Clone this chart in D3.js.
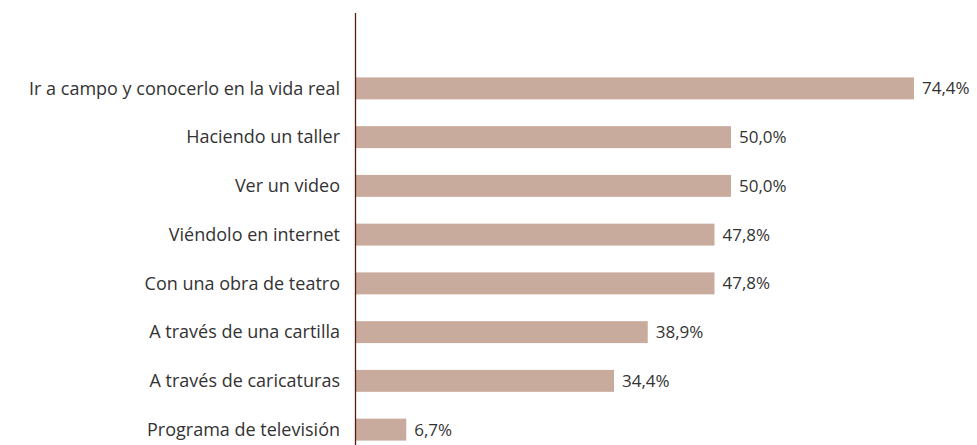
<!DOCTYPE html>
<html>
<head>
<meta charset="utf-8">
<script src="https://cdn.jsdelivr.net/npm/d3@7"></script>
<style>
  body { margin: 0; background: #fff; }
  svg text { font-family: "Open Sans", sans-serif; fill: #333; }
</style>
</head>
<body>
<div id="chart"></div>
<script>
var categories = [
  "Ir a campo y conocerlo en la vida real",
  "Haciendo un taller",
  "Ver un video",
  "Viéndolo en internet",
  "Con una obra de teatro",
  "A través de una cartilla",
  "A través de caricaturas",
  "Programa de televisión"
];
var values = [74.4, 50.0, 50.0, 47.8, 47.8, 38.9, 34.4, 6.7];

var width = 977, height = 445;

var svg = d3.select("#chart")
            .append("svg")
            .attr("width", width)
            .attr("height", height);

var x = d3.scaleLinear()
          .domain([0, 74.4])
          .range([356, 914]);

var y = d3.scaleBand()
          .domain(categories)
          .range([64, 454])
          .paddingInner(0.55)
          .paddingOuter(0.275);

svg.selectAll("rect.bar")
   .data(values)
   .enter()
   .append("rect")
   .attr("class", "bar")
   .attr("x", x(0))
   .attr("y", function(d, i) { return y(categories[i]); })
   .attr("width", function(d) { return x(d) - x(0); })
   .attr("height", y.bandwidth())
   .attr("fill", "#c9ab9e");

// axis line
svg.append("line")
   .attr("x1", 355.5).attr("x2", 355.5)
   .attr("y1", 13).attr("y2", height)
   .attr("stroke", "#5a1a0c")
   .attr("stroke-width", 1.3);

svg.selectAll("text.cat")
   .data(categories)
   .enter()
   .append("text")
   .attr("class", "cat")
   .attr("x", 340)
   .attr("y", function(d) { return y(d) + y.bandwidth() / 2; })
   .attr("dy", "0.35em")
   .attr("text-anchor", "end")
   .attr("font-size", 18)
   .text(function(d) { return d; });

svg.selectAll("text.val")
   .data(values)
   .enter()
   .append("text")
   .attr("class", "val")
   .attr("x", function(d) { return x(d) + 8; })
   .attr("y", function(d, i) { return y(categories[i]) + y.bandwidth() / 2; })
   .attr("dy", "0.35em")
   .attr("font-size", 17)
   .text(function(d) { return d.toFixed(1).replace(".", ",") + "%"; });
</script>
</body>
</html>
